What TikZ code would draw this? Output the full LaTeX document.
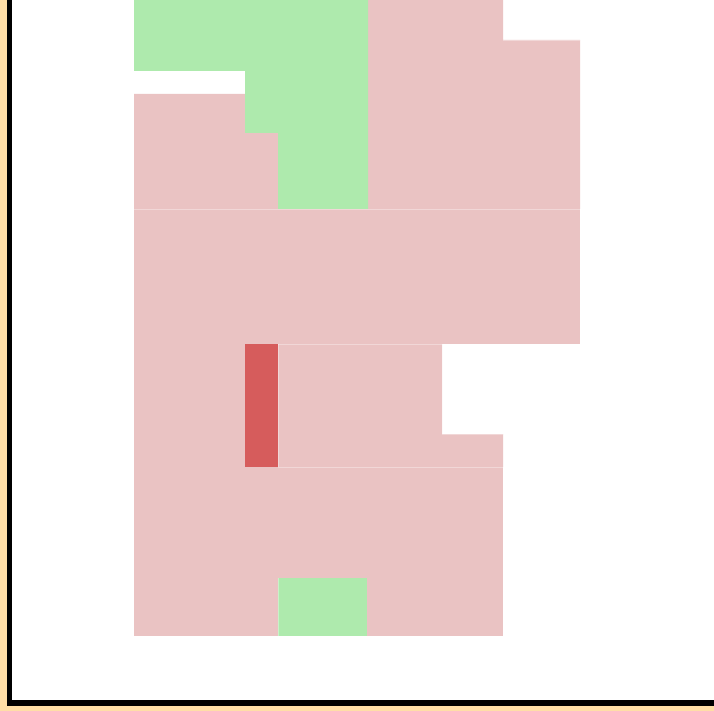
\documentclass[tikz,border=0pt]{standalone}
\definecolor{peach}{HTML}{FFDEA6}
\definecolor{pinkc}{HTML}{EAC3C3}
\definecolor{greenc}{HTML}{AEEAAD}
\definecolor{redc}{HTML}{D65C5C}
\begin{document}
\begin{tikzpicture}[x=1pt,y=-1pt,
  pinkbox/.style={fill=pinkc},
  greenbox/.style={fill=greenc},
  redbox/.style={fill=redc},
  seam/.style={draw=white,line width=0.5pt,draw opacity=0.35}]
\useasboundingbox (0,0) rectangle (714,711);
\fill[peach] (0,0) rectangle (714,711);
\fill[black] (7,0) rectangle (714,705.5);
\fill[white] (12,0) rectangle (714,700);
% pink blocks
\path[pinkbox] (368,0) -- (503,0) -- (503,40) -- (580,40) -- (580,209) -- (368,209) -- cycle;
\path[pinkbox] (134,94) -- (245,94) -- (245,133) -- (278,133) -- (278,209) -- (134,209) -- cycle;
\path[pinkbox] (134,209) rectangle (580,344);
\path[pinkbox] (134,344) rectangle (245,467);
\path[pinkbox] (278,344) -- (442,344) -- (442,434) -- (503,434) -- (503,467) -- (278,467) -- cycle;
\path[pinkbox] (134,467) rectangle (503,578);
\path[pinkbox] (134,578) rectangle (278,636);
\path[pinkbox] (367,578) rectangle (503,636);
% green blocks
\path[greenbox] (134,0) -- (368,0) -- (368,209) -- (278,209) -- (278,133) -- (245,133) -- (245,71) -- (134,71) -- cycle;
\path[greenbox] (278,578) rectangle (367,636);
% red block
\path[redbox] (245,344) rectangle (278,467);
% faint seams
\path[seam] (503,40) -- (580,40);
\path[seam] (134,209) -- (580,209);
\path[seam] (278,344) -- (442,344) -- (442,434) -- (503,434);
\path[seam] (278,344) -- (278,467) -- (503,467);
\path[seam] (278,578) -- (278,636);
\end{tikzpicture}
\end{document}
